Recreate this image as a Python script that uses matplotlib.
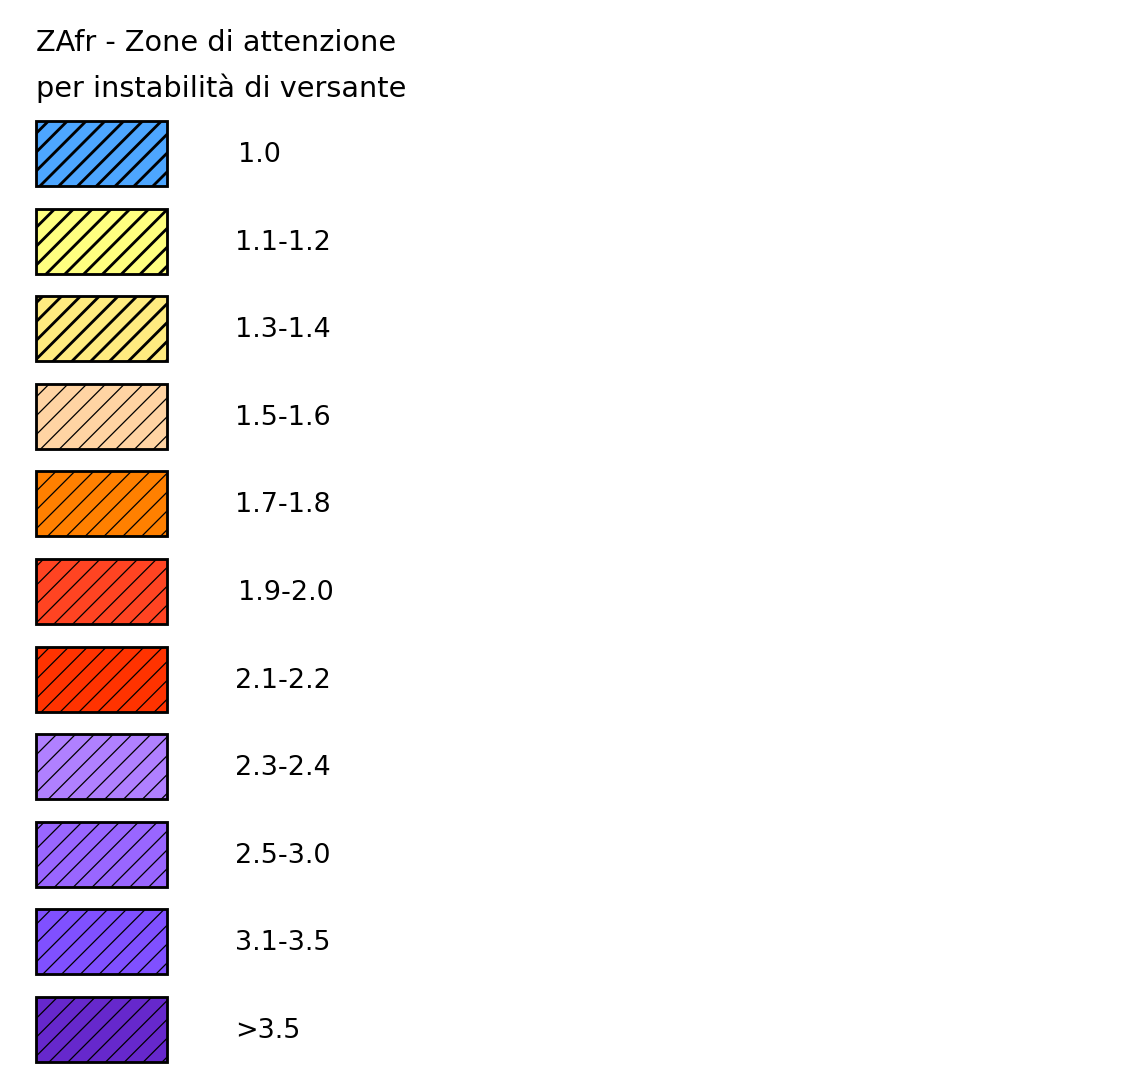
import matplotlib
matplotlib.use("Agg")
import matplotlib.pyplot as plt

title_lines = ["ZAfr - Zone di attenzione", "per instabilità di versante"]
labels = ["1.0", "1.1-1.2", "1.3-1.4", "1.5-1.6", "1.7-1.8", "1.9-2.0",
          "2.1-2.2", "2.3-2.4", "2.5-3.0", "3.1-3.5", ">3.5"]
colors = ["#4DA6FF", "#FFFF80", "#FFEB80", "#FFD4A3", "#FF8000", "#FF4422",
          "#FF3300", "#B080FF", "#9966FF", "#8050FF", "#6628CC"]
hatch_widths = [1.8, 1.8, 1.8, 0.8, 0.8, 0.8, 0.8, 0.8, 0.8, 0.8, 0.8]
label_dx = [3, 0, 0, 0, 0, 3, 0, 0, 0, 0, 0]

DPI = 113
W, H = 1130, 1070
plt.rcParams['font.family'] = ['DejaVu Sans']
plt.rcParams['hatch.color'] = 'black'

fig = plt.figure(figsize=(W / DPI, H / DPI), dpi=DPI)
ax = fig.add_axes([0, 0, 1, 1])
ax.set_xlim(0, W)
ax.set_ylim(H, 0)
ax.axis('off')

y0, step, bh = 153.5, 87.6, 65
box_left, box_w = 36, 131
for i, (lab, col, hw) in enumerate(zip(labels, colors, hatch_widths)):
    plt.rcParams['hatch.linewidth'] = hw
    y = y0 + i * step
    bars = ax.barh([y], [box_w], left=box_left, height=bh, color=col,
                   edgecolor='black', linewidth=1.8, hatch='//')
    for b in bars:
        if hasattr(b, 'set_hatch_linewidth'):
            b.set_hatch_linewidth(hw)
    ax.text(235 + label_dx[i], y + 1.5, lab, fontsize=17.2, va='center',
            ha='left', color='black')

ax.text(36, 43, title_lines[0], fontsize=18.3, va='center', ha='left')
ax.text(36, 88, title_lines[1], fontsize=18.3, va='center', ha='left')

fig.savefig("out.png", dpi=DPI, facecolor='white')
